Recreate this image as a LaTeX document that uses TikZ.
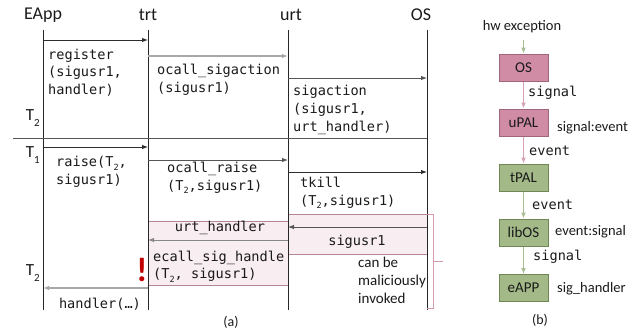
\documentclass[tikz,border=0pt]{standalone}
\usepackage{fontspec}
\setmainfont{Carlito}
\newfontfamily\monof{DejaVu Sans Mono}
\usetikzlibrary{arrows.meta}

\definecolor{txt}{HTML}{1A1A1A}
\definecolor{lifec}{HTML}{262626}
\definecolor{dk}{HTML}{2E2E2E}
\definecolor{md}{HTML}{555555}
\definecolor{lt}{HTML}{A8A8A8}
\definecolor{hlfill}{HTML}{F8EDF1}
\definecolor{hldraw}{HTML}{B58698}
\definecolor{brk}{HTML}{D49AAE}
\definecolor{pkfill}{HTML}{D08BA5}
\definecolor{pkdraw}{HTML}{A0647C}
\definecolor{pkarr}{HTML}{D7A2B5}
\definecolor{gnfill}{HTML}{A3B988}
\definecolor{gndraw}{HTML}{6E8755}
\definecolor{gnarr}{HTML}{A8BE92}
\definecolor{alert}{HTML}{C00000}

% subscripts inside monospaced and sans labels
\newcommand\msub[1]{\raisebox{-0.28em}{\fontsize{8.5}{8.5}\selectfont #1}}
\newcommand\ssub[1]{\raisebox{-0.3em}{\fontsize{11}{11}\selectfont #1}}

\begin{document}
\begin{tikzpicture}[x=1pt,y=-1pt,
  every node/.style={inner sep=0pt,text=txt},
  mono/.style={font=\monof\fontsize{13.6}{17.6}\selectfont,align=left,anchor=west},
  sans/.style={font=\fontsize{15}{18}\selectfont,align=left,anchor=west},
  head/.style={font=\fontsize{18}{18}\selectfont},
  tlab/.style={font=\fontsize{17}{17}\selectfont,anchor=east},
  life/.style={draw=lifec,line width=1pt},
  tip/.style={-{Latex[length=6pt,width=4.5pt]}},
  msgdk/.style={tip,draw=dk,line width=0.9pt},
  msgmd/.style={tip,draw=md,line width=0.9pt},
  msglt/.style={tip,draw=lt,line width=1.3pt},
  hlbox/.style={fill=hlfill,draw=hldraw,line width=1pt},
  pbox/.style={draw=pkdraw,fill=pkfill,line width=1pt,minimum width=49pt,minimum height=27pt,font=\fontsize{15}{15}\selectfont},
  gbox/.style={draw=gndraw,fill=gnfill,line width=1pt,minimum width=49pt,minimum height=27pt,font=\fontsize{15}{15}\selectfont},
  parr/.style={-{Latex[length=6pt,width=5pt]},draw=pkarr,line width=1.3pt},
  garr/.style={-{Latex[length=6pt,width=5pt]},draw=gnarr,line width=1.3pt},
]
\useasboundingbox (0,0) rectangle (641,335);

%% ---------------- (a) sequence chart ----------------
% highlighted region of the signal delivery path
\draw[hlbox] (148,221) rectangle (288,285);
\draw[hlbox] (288,214) rectangle (427,254);

% lifelines
\foreach \n/\x in {ea/43,tr/148,ur/288,os/427}{
  \coordinate (\n top) at (\x,30);
  \coordinate (\n bot) at (\x,310);
  \draw[life] (\n top) -- (\n bot);
}
\node[head] (hEApp) at (43,15) {EApp};
\node[head] (htrt) at (148,15) {trt};
\node[head] (hurt) at (291,15) {urt};
\node[head] (hOS) at (421,15) {OS};

% thread separator
\coordinate (sepL) at (13,138);
\coordinate (sepR) at (427,138);
\draw[draw=md,line width=1pt] (sepL) -- (sepR);

% registration (thread T2)
\coordinate (m1a) at (43,40);   \coordinate (m1b) at (148,40);
\coordinate (m2a) at (148,56);  \coordinate (m2b) at (288,56);
\coordinate (m3a) at (288,78);  \coordinate (m3b) at (427,78);
\draw[msgdk] (m1a) -- (m1b);
\draw[msglt] (m2a) -- (m2b);
\draw[msgmd] (m3a) -- (m3b);
\node[mono] (tReg) at (48,72.7) {register\\(sigusr1,\\handler)};
\node[mono] (tOsa) at (157,80) {ocall\_sigaction\\(sigusr1)};
\node[mono] (tSa)  at (293,110) {sigaction\\(sigusr1,\\urt\_handler)};
\node[tlab] (lT2a) at (40,118) {T\ssub{2}};

% raise (thread T1)
\coordinate (m4a) at (43,147);  \coordinate (m4b) at (148,147);
\coordinate (m5a) at (148,160); \coordinate (m5b) at (288,160);
\coordinate (m6a) at (288,172); \coordinate (m6b) at (427,172);
\draw[msgdk] (m4a) -- (m4b);
\draw[msgmd] (m5a) -- (m5b);
\draw[msgdk] (m6a) -- (m6b);
\node[tlab] (lT1) at (40,155) {T\ssub{1}};
\node[mono] (tRaise) at (56,171.5) {raise(T\msub{2},\\sigusr1)};
\node[mono] (tOr) at (167,178) {ocall\_raise\\(T\msub{2},sigusr1)};
\node[mono] (tKill) at (300,193) {tkill\\(T\msub{2},sigusr1)};

% delivery back to T2
\coordinate (m7a) at (427,227); \coordinate (m7b) at (288,227);
\coordinate (m8a) at (288,240); \coordinate (m8b) at (148,240);
\coordinate (m9a) at (148,288); \coordinate (m9b) at (43,288);
\draw[msgmd] (m7a) -- (m7b);
\draw[tip,draw=md!70,line width=0.9pt] (m8a) -- (m8b);
\draw[msglt] (m9a) -- (m9b);
\node[mono,anchor=center] (tSig) at (357,242) {sigusr1};
\node[mono,anchor=center] (tUh) at (220,228) {urt\_handler};
\node[mono] (tEsh) at (153,266.5) {ecall\_sig\_handle\\(T\msub{2}, sigusr1)};
\node[tlab] (lT2b) at (40,273) {T\ssub{2}};
\node[mono,anchor=center] (tHand) at (100,304) {handler(…)};
\node[font=\bfseries\fontsize{34}{34}\selectfont,text=alert] (warn) at (142,270) {!};

% bracket marking the spoofable part
\coordinate (bk1) at (427,214); \coordinate (bk2) at (433,214);
\coordinate (bk3) at (433,308); \coordinate (bk4) at (427,308);
\coordinate (bkm) at (433,261); \coordinate (bkt) at (443,261);
\draw[draw=brk,line width=1pt] (bk1) -- (bk2) -- (bk3) -- (bk4);
\draw[draw=brk,line width=1pt] (bkm) -- (bkt);
\node[sans] (tMal) at (358,280) {can be\\maliciously\\invoked};

\node[font=\fontsize{14}{14}\selectfont] (capA) at (231,322) {(a)};

%% ---------------- (b) layer chain ----------------
\node[font=\fontsize{14.5}{14.5}\selectfont] (hw) at (522,27) {hw exception};
\node[pbox] (bOS)   at (523.5,67.5)  {OS};
\node[pbox] (bUPAL) at (523.5,122.5) {uPAL};
\node[gbox] (bTPAL) at (523.5,177.5) {tPAL};
\node[gbox] (bLib)  at (523.5,232.5) {libOS};
\node[gbox] (bEAPP) at (523.5,288)   {eAPP};
\coordinate (hwArr) at (523.5,40);
\draw[garr] (hwArr) -- (bOS);
\draw[parr] (bOS) -- (bUPAL);
\draw[parr] (bUPAL) -- (bTPAL);
\draw[garr] (bTPAL) -- (bLib);
\draw[garr] (bLib) -- (bEAPP);
\node[mono] (e1) at (528,93) {signal};
\node[mono] (e2) at (529,151) {event};
\node[mono] (e3) at (532,205) {event};
\node[mono] (e4) at (533,257) {signal};
\node[sans,font=\fontsize{14.5}{14.5}\selectfont] (s1) at (557,128) {signal:event};
\node[sans,font=\fontsize{14.5}{14.5}\selectfont] (s2) at (555,232) {event:signal};
\node[sans,font=\fontsize{14.5}{14.5}\selectfont] (s3) at (557,289) {sig\_handler};
\node[font=\fontsize{14}{14}\selectfont] (capB) at (540,320) {(b)};
\end{tikzpicture}
\end{document}
